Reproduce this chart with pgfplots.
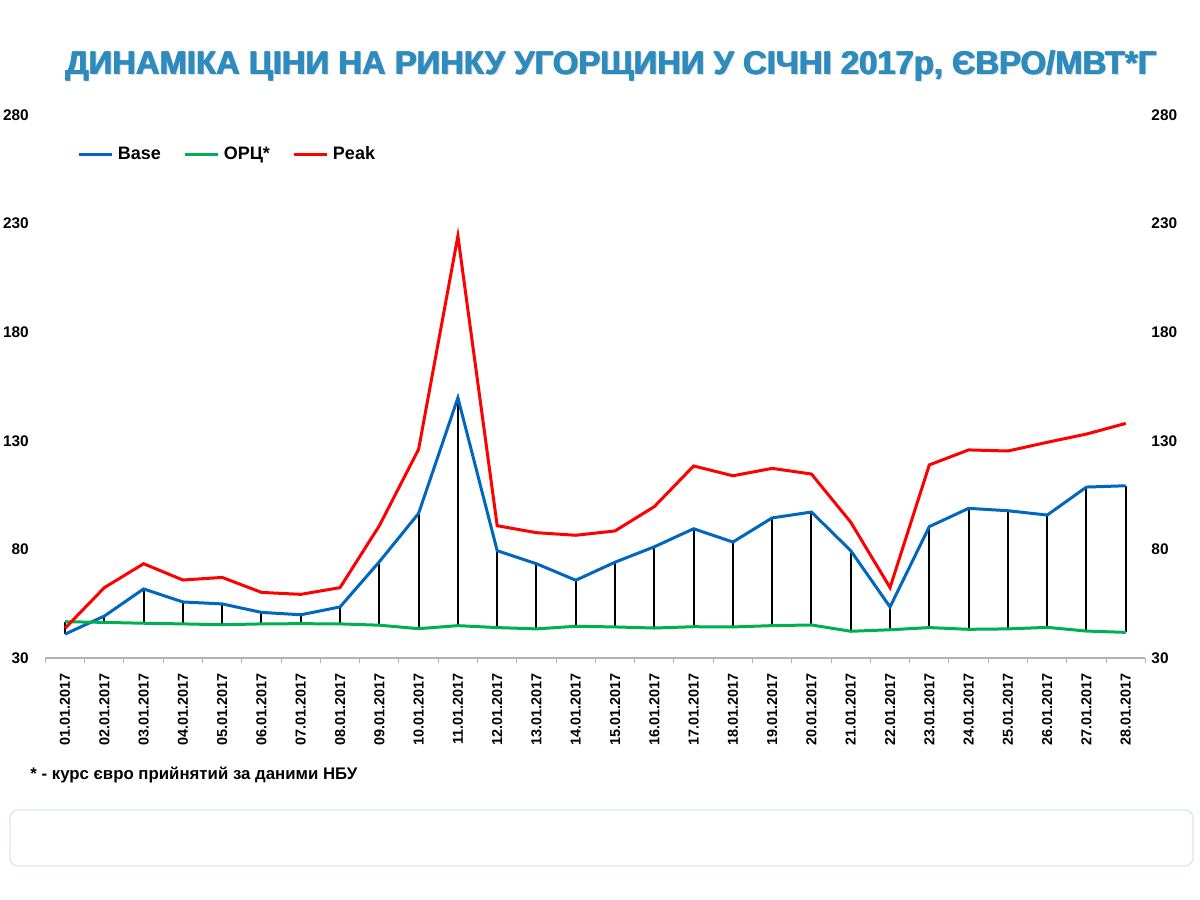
\documentclass[border=0pt]{standalone}
\usepackage{fontspec}
\setmainfont{Liberation Sans}
\usepackage{pgfplots}
\usepackage{pgfplotstable}
\pgfplotsset{compat=1.18}
\definecolor{baseblue}{RGB}{0,102,190}
\definecolor{orcgreen}{RGB}{0,176,80}
\definecolor{peakred}{RGB}{255,0,0}
\definecolor{titleblue}{RGB}{46,139,189}
\definecolor{boxline}{RGB}{212,230,238}

% x = day index (0 = 01.01.2017)
\pgfplotstableread{
x  base   orc   peak
0  41.0   46.7  43.7
1  49.3   46.4  62.4
2  61.8   46.0  73.4
3  55.8   45.7  65.9
4  54.9   45.3  67.1
5  51.0   45.7  60.2
6  49.9   45.8  59.3
7  53.5   45.7  62.4
8  74.3   45.1  90.9
9  96.6   43.5  126.1
10 149.8  44.9  224.3
11 79.4   44.0  90.9
12 73.4   43.4  87.7
13 65.8   44.6  86.5
14 74.1   44.3  88.5
15 81.2   43.8  99.7
16 89.5   44.4  118.4
17 83.4   44.3  113.9
18 94.5   44.9  117.3
19 97.2   45.2  114.7
20 79.4   42.3  92.5
21 53.5   43.0  62.4
22 90.5   44.0  118.9
23 98.9   43.2  125.8
24 97.8   43.4  125.3
25 95.8   44.1  129.3
26 108.7  42.4  133.1
27 109.3  41.8  138.0
}\prices

\newcommand\charttitle{ДИНАМІКА ЦІНИ НА РИНКУ УГОРЩИНИ У СІЧНІ 2017р, ЄВРО/МВТ*Г}

\begin{document}
\begin{tikzpicture}[x=0.5pt,y=0.5pt]
\path[use as bounding box] (0,0) rectangle (1200,900);

% title: light shadow, then a few offset copies to make it heavier
\tikzset{ttl/.style={font=\fontsize{16.4}{19}\selectfont\bfseries, inner sep=0pt}}
\node[ttl, text=gray!30] at (612.5,832.5) {\charttitle};
\foreach \dx in {-0.6,0,0.6}
  \node[ttl, text=titleblue] at (611+\dx,834) {\charttitle};

\pgfplotsset{
  priceax/.style={
    scale only axis, width=550pt, height=271.5pt,
    at={(22.7pt,121pt)}, anchor=south west,
    xmin=-0.5, xmax=27.5, ymin=30, ymax=280,
    ytick={30,80,130,180,230,280},
    /pgf/number format/assume math mode=true,
    xticklabel style={font=\fontsize{7.2}{8}\selectfont\bfseries},
    yticklabel style={font=\fontsize{7.7}{8}\selectfont\bfseries},
    ytick style={draw=none},
    y axis line style={draw=none},
  }
}

\begin{axis}[priceax,
  axis x line*=bottom, axis y line*=left,
  x axis line style={gray!60, line width=0.6pt},
  xtick={0,...,27},
  major x tick style={draw=none},
  minor xtick={-0.5,0.5,...,27.5},
  minor x tick style={gray!60, line width=0.5pt},
  minor tick length=2.5pt,
  tick align=outside,
  xticklabels={01.01.2017,02.01.2017,03.01.2017,04.01.2017,05.01.2017,06.01.2017,07.01.2017,
    08.01.2017,09.01.2017,10.01.2017,11.01.2017,12.01.2017,13.01.2017,14.01.2017,
    15.01.2017,16.01.2017,17.01.2017,18.01.2017,19.01.2017,20.01.2017,21.01.2017,
    22.01.2017,23.01.2017,24.01.2017,25.01.2017,26.01.2017,27.01.2017,28.01.2017},
  xticklabel style={rotate=90, anchor=east},
  yticklabel style={xshift=-0.5pt},
  legend columns=3,
  legend style={at={(0,1)}, anchor=north west, xshift=13pt, yshift=-11.5pt,
    draw=none, fill=none, font=\fontsize{9}{10}\selectfont\bfseries,
    /tikz/every even column/.append style={column sep=9.5pt}},
  legend image code/.code={\draw[#1] (0pt,0pt) -- (16.5pt,0pt);},
]
\addlegendimage{baseblue, line width=1.5pt}
\addlegendimage{orcgreen, line width=1.5pt}
\addlegendimage{peakred, line width=1.5pt}
% drop lines from ОРЦ to Base
\addplot[draw=none, forget plot,
  error bars/.cd, y dir=plus, y explicit, error mark=none,
  error bar style={black, line width=1pt}]
  table[x=x, y=orc, y error expr=\thisrow{base}-\thisrow{orc}] {\prices};
\addplot[baseblue, line width=1.5pt, forget plot] table[x=x, y=base] {\prices};
\addplot[orcgreen, line width=1.5pt, forget plot] table[x=x, y=orc] {\prices};
\addplot[peakred, line width=1.5pt, forget plot] table[x=x, y=peak] {\prices};
\legend{Base, ОРЦ*, Peak}
\end{axis}

\begin{axis}[priceax,
  axis x line=none, axis y line*=right,
  yticklabel style={xshift=-0.5pt},
]
\addplot[draw=none] coordinates {(0,30)};
\end{axis}

\node[anchor=west, inner sep=0pt, font=\fontsize{8.4}{9}\selectfont\bfseries] at (30,125)
  {* - курс євро прийнятий за даними НБУ};
\draw[boxline, line width=0.6pt, rounded corners=4pt] (10,34) rectangle (1193,90);
\end{tikzpicture}
\end{document}
